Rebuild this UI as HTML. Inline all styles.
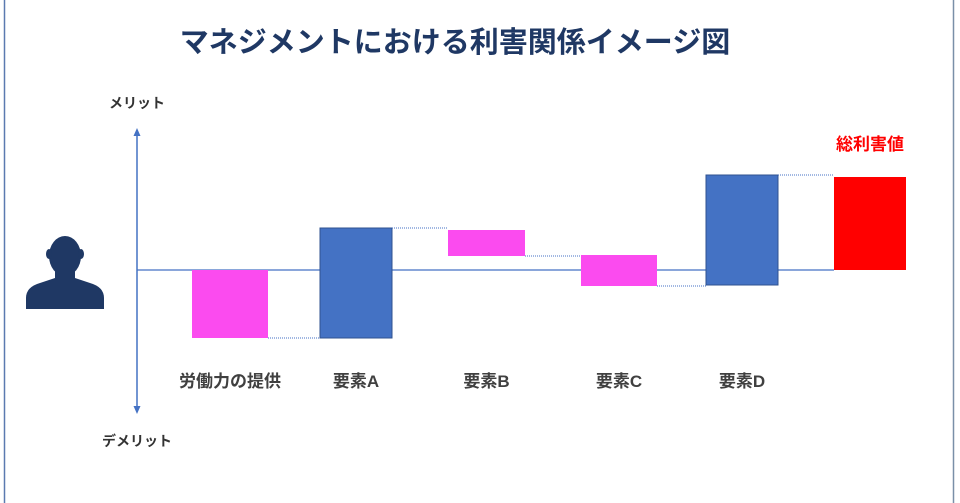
<!DOCTYPE html>
<html><head><meta charset="utf-8"><style>
body{margin:0;background:#fff;}
svg{display:block;font-family:"Liberation Sans","Noto Sans CJK JP",sans-serif;}
</style></head><body>
<svg id="c" width="960" height="503">
<line x1="4.5" y1="0" x2="4.5" y2="503" stroke="#5b7ab0" stroke-width="1.5"/>
<line x1="953.5" y1="0" x2="953.5" y2="503" stroke="#7a8fa8" stroke-width="1.5"/>
<text x="455" y="52" text-anchor="middle" font-size="29" font-weight="bold" fill="#1f3864">マネジメントにおける利害関係イメージ図</text>
<text x="137" y="108" text-anchor="middle" font-size="14" font-weight="bold" fill="#333">メリット</text>
<text x="137" y="446" text-anchor="middle" font-size="14" font-weight="bold" fill="#333">デメリット</text>
<line x1="137" y1="132" x2="137" y2="410" stroke="#4472c4" stroke-width="1.5"/>
<polygon points="137,128 133.5,136 140.5,136" fill="#4472c4"/>
<polygon points="137,414 133.5,406 140.5,406" fill="#4472c4"/>
<line x1="137" y1="270" x2="834" y2="270" stroke="#4472c4" stroke-width="1.2"/>
<g fill="#1f3864">
<ellipse cx="65" cy="256" rx="16" ry="20"/>
<ellipse cx="49" cy="254" rx="3" ry="5"/><ellipse cx="81" cy="254" rx="3" ry="5"/>
<rect x="55" y="268" width="20" height="16"/>
<path d="M26,309 L26,298 Q26,287 40,283 L55,278 L75,278 L90,283 Q104,287 104,298 L104,309 Z"/>
</g>
<g id="bars"></g>
<text x="870" y="150" text-anchor="middle" font-size="17" font-weight="bold" fill="#ff0000">総利害値</text>
</svg>
<script>
const categories=["労働力の提供","要素A","要素B","要素C","要素D","総利害値"];
const startValues=[0,-68,40,15,-15,0];
const endValues=[-68,42,14,-16,95,93];
const showLabel=[true,true,true,true,true,false];
const xLeft=[192,320,448,581,706,834];
const widths=[76,72,77,76,72,72];
const ns="http://www.w3.org/2000/svg";
const y=v=>270-v;
const g=document.getElementById("bars");
for(let i=0;i<categories.length;i++){
  const s=startValues[i],e=endValues[i];
  const r=document.createElementNS(ns,"rect");
  r.setAttribute("x",xLeft[i]);r.setAttribute("y",Math.min(y(s),y(e)));
  r.setAttribute("width",widths[i]);r.setAttribute("height",Math.abs(e-s));
  const col=i===categories.length-1?"#ff0000":(e>=s?"#4472c4":"#fb4bef");
  r.setAttribute("fill",col);
  if(col==="#4472c4"){r.setAttribute("stroke","#2f528f");r.setAttribute("stroke-width","1");}
  
  
  g.appendChild(r);
  if(showLabel[i]){
    const t=document.createElementNS(ns,"text");
    t.setAttribute("x",xLeft[i]+widths[i]/2);t.setAttribute("y",387);
    t.setAttribute("text-anchor","middle");t.setAttribute("font-size","17");
    t.setAttribute("font-weight","bold");t.setAttribute("fill","#404040");
    t.textContent=categories[i];
    
    
    g.appendChild(t);
  }
  if(i<categories.length-1){
    const l=document.createElementNS(ns,"line");
    l.setAttribute("x1",xLeft[i]+widths[i]);l.setAttribute("x2",xLeft[i+1]);
    l.setAttribute("y1",y(e));l.setAttribute("y2",y(e));
    l.setAttribute("stroke","#4472c4");l.setAttribute("stroke-width","1");
    l.setAttribute("stroke-dasharray","1,1");
    
    
    g.appendChild(l);
  }
}
</script>
</body></html>
